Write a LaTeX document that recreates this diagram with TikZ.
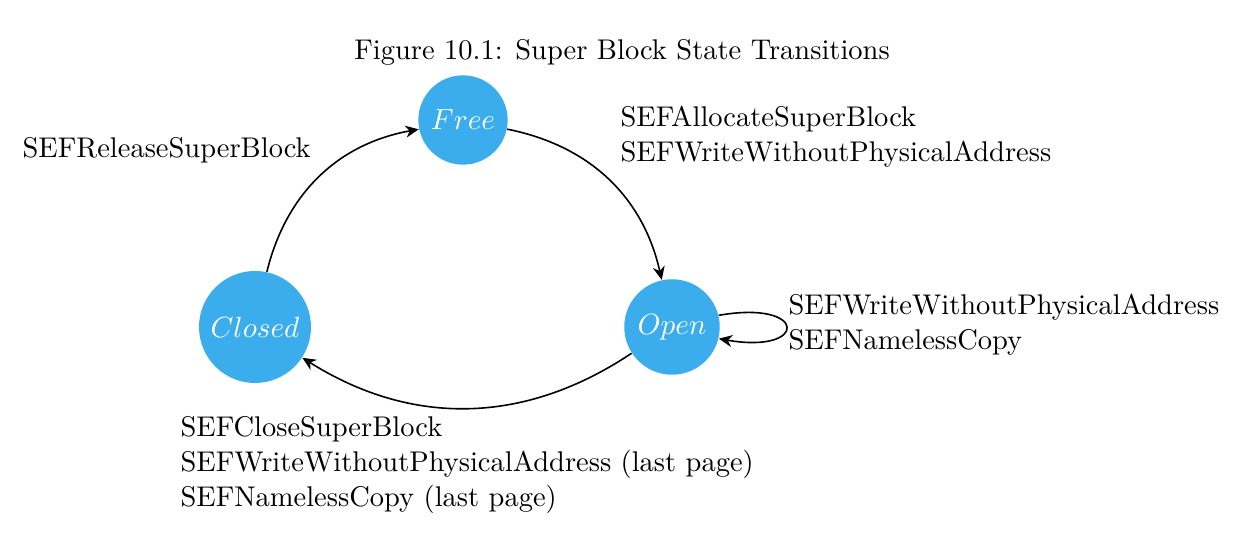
\documentclass[tikz,border=0pt]{standalone}
\usetikzlibrary{arrows.meta}
\definecolor{stateblue}{RGB}{59,173,236}
\begin{document}
\begin{tikzpicture}[x=0.375pt,y=-0.375pt,
  state/.style={circle,fill=stateblue,text=white,inner sep=0pt},
  lbl/.style={align=left,anchor=west,inner sep=0pt},
  tr/.style={-{Stealth[length=5pt,width=4.5pt,inset=1.6pt]},line width=0.6pt,black},
  every node/.style={font=\fontsize{10.68}{13.2}\selectfont}]
\useasboundingbox (0,0) rectangle (1258,543);
\node[inner sep=0pt] (cap) at (622,52) {Figure 10.1: Super Block State Transitions};
\node[state,minimum size=33.5pt] (free) at (463,120) {$Free$};
\node[state,minimum size=35.8pt] (open) at (672,327) {$Open$};
\node[state,minimum size=42pt] (closed) at (255,327) {$Closed$};
\draw[tr] (free) to[bend left=33] (open);
\draw[tr] (open) to[bend left=33] (closed);
\draw[tr] (closed) to[bend left=33] (free);
\draw[tr] (open.14) to[out=10,in=-10,looseness=10] (open.-14);
\node[lbl] (lrel) at (22,150) {SEFReleaseSuperBlock};
\node[lbl] (lalloc) at (620,137) {SEFAllocateSuperBlock\\SEFWriteWithoutPhysicalAddress};
\node[lbl] (lloop) at (788,325) {SEFWriteWithoutPhysicalAddress\\SEFNamelessCopy};
\node[lbl] (lclose) at (180,465) {SEFCloseSuperBlock\\SEFWriteWithoutPhysicalAddress (last page)\\SEFNamelessCopy (last page)};
\end{tikzpicture}
\end{document}
